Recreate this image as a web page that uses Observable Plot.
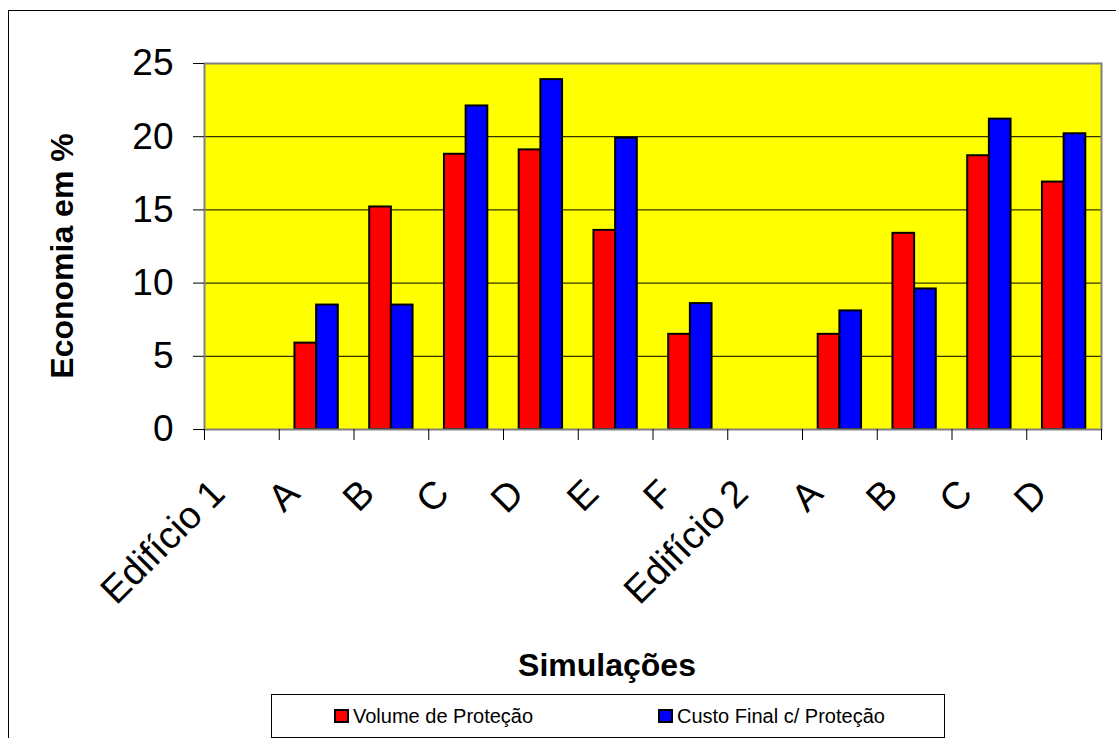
<!DOCTYPE html>
<html>
<head>
<meta charset="utf-8">
<script src="https://cdn.jsdelivr.net/npm/d3@7"></script>
<script src="https://cdn.jsdelivr.net/npm/@observablehq/plot@0.6"></script>
<style>
  html, body { margin: 0; padding: 0; background: #fff; }
  body { width: 1116px; height: 738px; overflow: hidden; position: relative; font-family: "Liberation Sans", Arial, sans-serif; }
  #border { position: absolute; left: 8px; top: 10px; width: 1200px; height: 800px; border-left: 1px solid #000; border-top: 1px solid #000; }
  #chart { position: absolute; left: 0; top: 0; }
  #ylabel { position: absolute; left: -88px; top: 240px; width: 300px; height: 32px; line-height: 32px; text-align: center; font-weight: bold; font-size: 32px; transform: rotate(-90deg); transform-origin: 150px 16px; }
  #xlabel { position: absolute; left: 407px; top: 649px; width: 400px; line-height: 32px; text-align: center; font-weight: bold; font-size: 32px; }
  #legend { position: absolute; left: 271px; top: 694px; width: 674px; height: 44px; border: 1px solid #000; box-sizing: border-box; }
  .item { position: absolute; top: 0; height: 42px; display: flex; align-items: center; font-size: 20px; white-space: nowrap; }
  .sw { width: 15px; height: 14px; box-sizing: border-box; border: 2px solid #000; margin-right: 4px; }
</style>
</head>
<body>
<div id="border"></div>
<div id="chart"></div>
<div id="ylabel">Economia em %</div>
<div id="xlabel">Simulações</div>
<div id="legend"></div>
<script>
const categories = ["Edifício 1", "A", "B", "C", "D", "E", "F", "Edifício 2", "A", "B", "C", "D"];
const volume = [null, 5.9, 15.2, 18.8, 19.1, 13.6, 6.5, null, 6.5, 13.4, 18.7, 16.9];
const custo  = [null, 8.5, 8.5, 22.1, 23.9, 19.9, 8.6, null, 8.1, 9.6, 21.2, 20.2];
const seriesNames = ["Volume de Proteção", "Custo Final c/ Proteção"];
const seriesColors = ["#ff0000", "#0000ff"];
const yTicks = [0, 5, 10, 15, 20, 25];

const seriesValues = [volume, custo];
const rows = [];
categories.forEach((c, i) => {
  seriesValues.forEach((vals, k) => {
    if (vals[i] != null) rows.push({i, k, cat: c, series: seriesNames[k], value: vals[i]});
  });
});
const boundaries = d3.range(categories.length + 1);
const centers = categories.map((c, i) => ({i, label: c}));
const barW = 0.29;

const chart = Plot.plot({
  width: 1116,
  height: 738,
  marginLeft: 204,
  marginRight: 15,
  marginTop: 63,
  marginBottom: 309,
  style: {fontFamily: "'Liberation Sans', Arial, sans-serif", background: "transparent", color: "#000"},
  x: {type: "linear", domain: [0, categories.length]},
  y: {domain: [0, 25]},
  color: {domain: seriesNames, range: seriesColors},
  marks: [
    Plot.frame({fill: "#ffff00", stroke: "none"}),
    Plot.gridY({ticks: yTicks.slice(1, -1), stroke: "#000", strokeOpacity: 1, strokeWidth: 1}),
    Plot.rectY(rows, {
      x1: d => d.i + 0.5 - (d.k === 0 ? barW : 0),
      x2: d => d.i + 0.5 + (d.k === 1 ? barW : 0),
      y1: 0,
      y2: "value",
      fill: "series",
      stroke: "#000",
      strokeWidth: 2
    }),
    Plot.frame({stroke: "#808080", strokeWidth: 2}),
    Plot.axisY({ticks: yTicks, tickSize: 11, tickPadding: 20, fontSize: 37, stroke: "#000", label: null}),
    Plot.axisX({ticks: boundaries, tickSize: 11, tickFormat: () => "", stroke: "#000", label: null}),
    Plot.text(centers, {
      x: d => d.i + 0.5,
      frameAnchor: "bottom",
      text: "label",
      rotate: -45,
      textAnchor: "end",
      lineAnchor: "bottom",
      fontSize: 38,
      dx: -15,
      dy: 66,
      fill: "#000"
    })
  ]
});
document.getElementById("chart").appendChild(chart);

const legend = d3.select("#legend");
seriesNames.forEach((name, k) => {
  const item = legend.append("div").attr("class", "item").style("left", (62 + k * 324) + "px");
  item.append("div").attr("class", "sw").style("background", seriesColors[k]);
  item.append("span").text(name);
});
</script>
</body>
</html>
